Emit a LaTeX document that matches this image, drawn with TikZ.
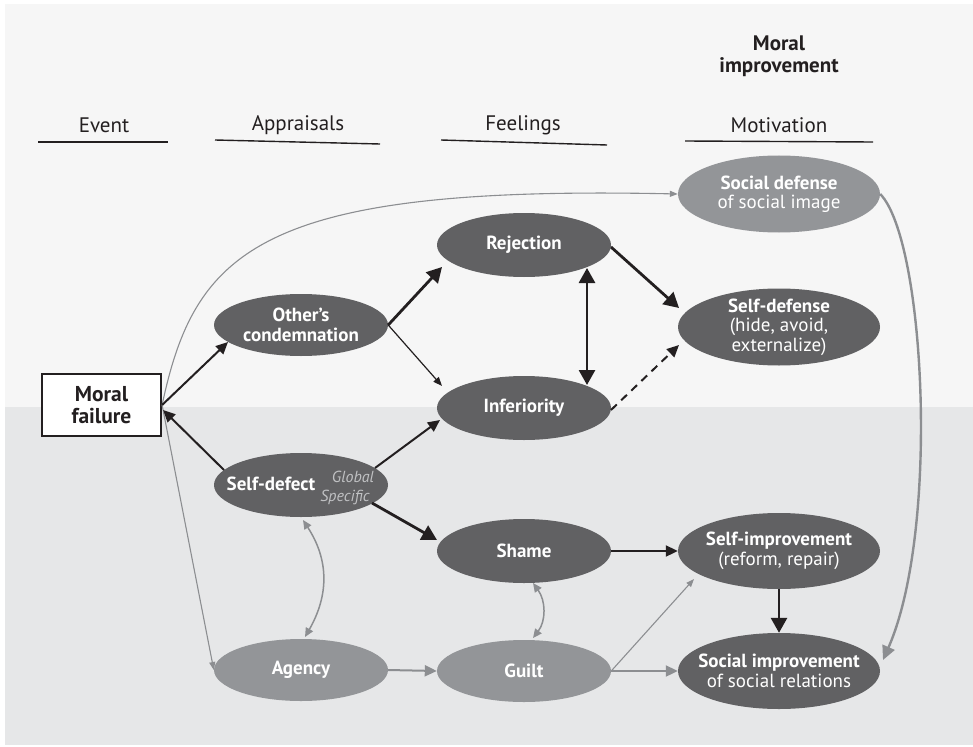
\documentclass[tikz,border=0pt]{standalone}
\usepackage{fontspec}
\setmainfont{PT Sans}
\usetikzlibrary{shapes.geometric,arrows.meta,calc}
\definecolor{blk}{RGB}{35,31,32}
\definecolor{darkell}{RGB}{97,97,99}
\definecolor{lightell}{RGB}{147,149,152}
\definecolor{gline}{RGB}{140,142,145}
\definecolor{bgtop}{RGB}{246,246,246}
\definecolor{bgbot}{RGB}{230,231,232}
\definecolor{gtext}{RGB}{192,193,195}
\begin{document}
\begin{tikzpicture}[x=1pt,y=-1pt,
  dk/.style={ellipse, fill=darkell, inner sep=0pt},
  lt/.style={ellipse, fill=lightell, inner sep=0pt},
  sm/.style={minimum width=174pt, minimum height=64pt},
  bg/.style={minimum width=202pt, minimum height=77pt},
  lbl/.style={text=white, align=center, inner sep=0pt, font=\fontsize{19}{19.5}\selectfont},
  hdr/.style={text=blk, inner sep=0pt, align=center, font=\fontsize{21}{22}\selectfont},
  hline/.style={draw=blk, line width=1.4pt},
  thk/.style={draw=blk, line width=2.8pt, -{Triangle[length=15pt,width=16pt]}},
  thkd/.style={draw=blk, line width=2.8pt, {Triangle[length=15pt,width=16pt]}-{Triangle[length=15pt,width=16pt]}},
  med/.style={draw=blk, line width=2pt, -{Triangle[length=12pt,width=11pt]}},
  thn/.style={draw=blk, line width=1.2pt, -{Triangle[length=9pt,width=7pt]}},
  gmed/.style={draw=gline, line width=2pt, -{Triangle[length=12pt,width=11pt]}},
  gthn/.style={draw=gline, line width=1.1pt, -{Triangle[length=8pt,width=6pt]}},
  gthk/.style={draw=gline, line width=2.4pt, -{Triangle[length=14pt,width=13pt]}},
  gdbl/.style={draw=gline, line width=1.5pt, {Triangle[length=9pt,width=8pt]}-{Triangle[length=9pt,width=8pt]}}
]
\useasboundingbox (0,0) rectangle (973,746);
\fill[white] (0,0) rectangle (973,746);
\fill[bgtop] (5,4) rectangle (973,407);
\fill[bgbot] (5,407) rectangle (973,745);

% headers
\node[hdr] (hmoral) at (779,56) {\textbf{Moral}\\\textbf{improvement}};
\node[hdr] (hevent) at (104,125) {Event};
\node[hdr] (happr) at (298,125) {Appraisals};
\node[hdr] (hfeel) at (523,125) {Feelings};
\node[hdr] (hmotiv) at (779,125) {Motivation};
\draw[hline] (38,142) -- (168,142);
\draw[hline] (215,140) -- (380,144);
\draw[hline] (441,140) -- (607,145);
\draw[hline] (685,141) -- (873,142);

% nodes
\node[draw=blk, line width=2.2pt, fill=white, minimum width=119pt, minimum height=62pt, inner sep=0pt,
      text=blk, align=center, font=\fontsize{21.5}{22}\selectfont\bfseries] (MF) at (101.5,405) {Moral\\failure};
\node[lt,bg,label={[lbl]center:{\textbf{Social defense}\\of social image}}] (SocDef) at (779,194) {};
\node[dk,bg,label={[lbl]center:{\textbf{Self-defense}\\(hide, avoid,\\externalize)}}] (SelfDef) at (779,327) {};
\node[dk,sm,label={[lbl]center:{\textbf{Rejection}}}] (Rej) at (524,245) {};
\node[dk,sm,label={[lbl]center:{\textbf{Inferiority}}}] (Inf) at (524,408) {};
\node[dk,sm,minimum height=62pt,label={[lbl]center:{\textbf{Other’s}\\\textbf{condemnation}}}] (Cond) at (301,325) {};
\node[dk,sm] (Defect) at (301,485) {};
\node[lbl,font=\fontsize{19}{19.5}\selectfont\bfseries] (DefectT) at (271,484) {Self-defect};
\node[lbl,text=gtext,font=\fontsize{16}{17}\selectfont\itshape] (Glob) at (353,477) {Global};
\node[lbl,text=gtext,font=\fontsize{16}{17}\selectfont\itshape] (Spec) at (345,497) {Specific};
\node[lt,sm,minimum height=62pt,label={[lbl]center:{\textbf{Agency}}}] (Agency) at (301,670) {};
\node[dk,sm,label={[lbl]center:{\textbf{Shame}}}] (Shame) at (524,551) {};
\node[lt,sm,minimum height=62pt,label={[lbl]center:{\textbf{Guilt}}}] (Guilt) at (524,671) {};
\node[dk,bg,minimum height=76pt,label={[lbl]center:{\textbf{Self-improvement}\\(reform, repair)}}] (SImp) at (779,551) {};
\node[dk,bg,minimum height=76pt,label={[lbl]center:{\textbf{Social improvement}\\of social relations}}] (SocImp) at (779,671) {};

% connectors
\draw[gthn] (MF.east) .. controls ($(MF.east)+(33,-155)$) and ($(SocDef)+(-519,-9)$) .. (SocDef.west);
\draw[gthn] (MF.east) -- (Agency.west);
\draw[med] (MF.east) -- ($(Cond)+(-73,17)$);
\draw[med] ($(Defect)+(-77,-15)$) -- ($(MF.east)+(1,5)$);
\draw[thk] (Cond.east) -- ($(Rej)+(-82,22)$);
\draw[thn] (Cond.east) -- ($(Inf)+(-82,-22)$);
\draw[thkd] ($(Rej)+(63,23)$) -- ($(Inf)+(63,-23)$);
\draw[thk] ($(Rej)+(87,2)$) -- ($(SelfDef)+(-100,-19)$);
\draw[med,dash pattern=on 8pt off 6pt] ($(Inf)+(87,2)$) -- ($(SelfDef)+(-100,18)$);
\draw[med] ($(Defect)+(74,-17)$) -- ($(Inf)+(-84,12)$);
\draw[thk] ($(Defect)+(71,18)$) -- ($(Shame)+(-87,-11)$);
\draw[gdbl] ($(Defect)+(2,35)$) .. controls ($(Defect)+(28,75)$) and ($(Agency)+(28,-75)$) .. ($(Agency)+(4,-33)$);
\draw[gmed] (Agency.east) -- (Guilt.west);
\draw[gdbl] ($(Shame)+(9,32)$) .. controls ($(Shame)+(22,50)$) and ($(Guilt)+(22,-50)$) .. ($(Guilt)+(9,-33)$);
\draw[med] (Shame.east) -- (SImp.west);
\draw[gthn] (Guilt.east) -- ($(SImp)+(-85,28)$);
\draw[gmed] (Guilt.east) -- (SocImp.west);
\draw[thk] (SImp.south) -- (SocImp.north);
\draw[gthk] (SocDef.east) .. controls ($(SocDef)+(146,46)$) and ($(SocImp)+(161,-141)$) .. ($(SocImp)+(104,-11)$);
\end{tikzpicture}
\end{document}
